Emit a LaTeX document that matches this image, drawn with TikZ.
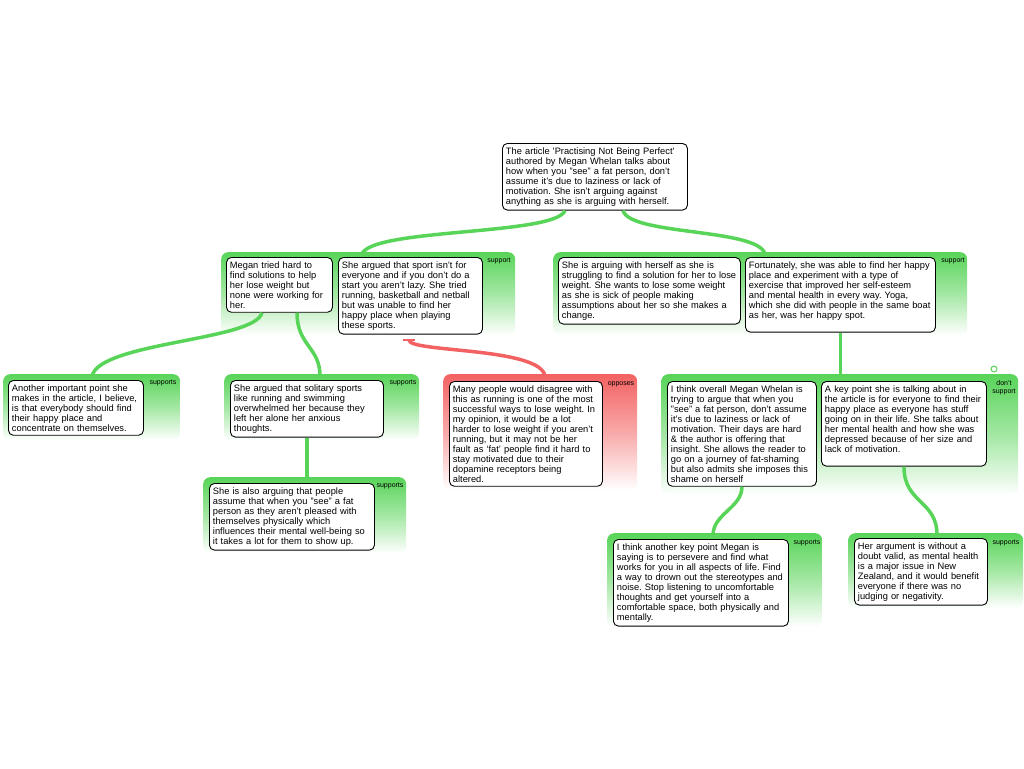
\documentclass[tikz,border=0pt]{standalone}
\usepackage{fontspec}
\setmainfont{Liberation Sans}
\usepackage{tikz}
\usetikzlibrary{calc,arrows.meta}
\definecolor{supgreen}{RGB}{88,212,88}
\definecolor{oppred}{RGB}{243,98,98}
\newcommand{\ArgFont}{\fontsize{9.3}{10}\selectfont}
\newcommand{\TagFont}{\fontsize{7}{8}\selectfont}
\frenchspacing
\tikzset{
  argbox/.style={draw, fill=white, rounded corners=5pt, line width=0.9pt,
    align=left, inner xsep=3.5pt, inner ysep=4pt, anchor=north west, font=\ArgFont},
  supgrp/.style={rounded corners=7pt, top color=supgreen, bottom color=white,
    middle color=supgreen!55, anchor=north west, inner sep=0pt},
  oppgrp/.style={rounded corners=7pt, top color=oppred, bottom color=white,
    middle color=oppred!55, anchor=north west, inner sep=0pt},
  grptag/.style={font=\TagFont, inner sep=0pt, align=center},
  supline/.style={draw=supgreen, line width=3.5pt},
  oppline/.style={draw=oppred, line width=3.5pt}
}

\begin{document}
\begin{tikzpicture}[x=1pt,y=-1pt]
			\useasboundingbox (0,0) rectangle (1024,768);
			% 
			\node[supgrp, minimum width=294, minimum height=83] (g1) at (221,252) {};
			\node[supgrp, minimum width=414, minimum height=83] (g2) at (553,252) {};
			\node[supgrp, minimum width=177, minimum height=66] (g3) at (3,374) {};
			\node[supgrp, minimum width=195, minimum height=66] (g4) at (224,374) {};
			\node[oppgrp, minimum width=194, minimum height=116] (g5) at (443,374) {};
			\node[supgrp, minimum width=203, minimum height=76] (g6) at (203,477) {};
			\node[supgrp, minimum width=357, minimum height=121] (g7) at (661,374) {};
			\node[supgrp, minimum width=215, minimum height=94] (g8) at (607,533) {};
			\node[supgrp, minimum width=175, minimum height=75] (g9) at (848,533) {};
			% 
			\node[grptag] (t1) at (499,261) {support};
			\node[grptag] (t2) at (953,261) {support};
			\node[grptag] (t3) at (163,383) {supports};
			\node[grptag] (t4) at (403,383) {supports};
			\node[grptag] (t5) at (621,384) {opposes};
			\node[grptag] (t6) at (390,486) {supports};
			\node[grptag] (t7) at (1004,388) {don't\\support};
			\node[grptag] (t8) at (807,543) {supports};
			\node[grptag] (t9) at (1006,543) {supports};
			\node[circle, draw=supgreen, line width=1pt, minimum size=6pt, inner sep=0pt] (o7) at (994,369) {};
			% 
			\node[argbox, text width=178] (claim) at (502,143) {The article \textquotesingle Practising Not Being Perfect\textquotesingle\\authored by Megan Whelan talks about\\how when you "see" a fat person, don't\\assume it's due to laziness or lack of\\motivation. She isn't arguing against\\anything as she is arguing with herself.};
			\node[argbox, text width=99] (ra) at (226,257) {Megan tried hard to\\find solutions to help\\her lose weight but\\none were working for\\her.};
			\node[argbox, text width=137] (rb) at (338,257) {She argued that sport isn't for\\everyone and if you don't do a\\start you aren't lazy. She tried\\running, basketball and netball\\but was unable to find her\\happy place when playing\\these sports.};
			\node[argbox, text width=175] (rc) at (558,257) {She is arguing with herself as she is\\struggling to find a solution for her to lose\\weight. She wants to lose some weight\\as she is sick of people making\\assumptions about her so she makes a\\change.};
			\node[argbox, text width=183] (rd) at (745,257) {Fortunately, she was able to find her happy\\place and experiment with a type of\\exercise that improved her self-esteem\\and mental health in every way. Yoga,\\which she did with people in the same boat\\as her, was her happy spot.\\~};
			\node[argbox, text width=128] (sa) at (8,380) {Another important point she\\makes in the article, I believe,\\is that everybody should find\\their happy place and\\concentrate on themselves.};
			\node[argbox, text width=146] (sb) at (230,380) {She argued that solitary sports\\like running and swimming\\overwhelmed her because they\\left her alone her anxious\\thoughts.};
			\node[argbox, text width=146] (ob) at (449,381) {Many people would disagree with\\this as running is one of the most\\successful ways to lose weight. In\\my opinion, it would be a lot\\harder to lose weight if you aren't\\running, but it may not be her\\fault as `fat' people find it hard to\\stay motivated due to their\\dopamine receptors being\\altered.};
			\node[argbox, text width=158] (sc) at (209,483) {She is also arguing that people\\assume that when you "see" a fat\\person as they aren't pleased with\\themselves physically which\\influences their mental well-being so\\it takes a lot for them to show up.};
			\node[argbox, text width=142] (ua) at (667,381) {I think overall Megan Whelan is\\trying to argue that when you\\"see" a fat person, don't assume\\it's due to laziness or lack of\\motivation. Their days are hard\\\& the author is offering that\\insight. She allows the reader to\\go on a journey of fat-shaming\\but also admits she imposes this\\shame on herself};
			\node[argbox, text width=158] (ub) at (821,381) {A key point she is talking about in\\the article is for everyone to find their\\happy place as everyone has stuff\\going on in their life. She talks about\\her mental health and how she was\\depressed because of her size and\\lack of motivation.\\~};
			\node[argbox, text width=168] (sd) at (613,539) {I think another key point Megan is\\saying is to persevere and find what\\works for you in all aspects of life. Find\\a way to drown out the stereotypes and\\noise. Stop listening to uncomfortable\\thoughts and get yourself into a\\comfortable space, both physically and\\mentally.};
			\node[argbox, text width=126] (se) at (854,538) {Her argument is without a\\doubt valid, as mental health\\is a major issue in New\\Zealand, and it would benefit\\everyone if there was no\\judging or negativity.};
			% 
			\coordinate (c1s) at ($(claim.south west)+(63,0)$);
			\coordinate (c2s) at ($(claim.south west)+(121,0)$);
			\coordinate (g1n) at ($(g1.north west)+(141,2)$);
			\coordinate (g2n) at ($(g2.north west)+(212,2)$);
			\coordinate (ra1) at ($(ra.south west)+(36,0)$);
			\coordinate (ra2) at ($(ra.south west)+(71,0)$);
			\coordinate (g3n) at ($(g3.north west)+(89,2)$);
			\coordinate (g4n) at ($(g4.north west)+(96,2)$);
			\coordinate (rbs) at ($(rb.south west)+(71,4)$);
			\coordinate (g5n) at ($(g5.north west)+(102,2)$);
			\coordinate (g8n) at ($(g8.north west)+(106,2)$);
			\coordinate (g9n) at ($(g9.north west)+(89,2)$);
			% 
			\draw[supline] (c1s) .. controls ($(c1s)+(-10,25)$) and ($(g1n)+(10,-26)$) .. (g1n);
			\draw[supline] (c2s) .. controls ($(c2s)+(7,25)$) and ($(g2n)+(-7,-26)$) .. (g2n);
			\draw[supline] (ra1) .. controls ($(ra1)+(-7,28)$) and ($(g3n)+(8,-34)$) .. (g3n);
			\draw[supline] (ra2) .. controls ($(ra2)+(0,33)$) and ($(g4n)+(0,-29)$) .. (g4n);
			\draw[oppline, {Bar[width=12pt,line width=2pt]}-] (rbs) .. controls ($(rbs)+(0,14)$) and ($(g5n)+(-5,-29)$) .. (g5n);
			\draw[supline] (sb.south) -- ($(sb.south |- g6.north)+(0,2)$);
			\draw[supline] (rd.south) -- ($(rd.south |- g7.north)+(0,2)$);
			\draw[supline] (ua.south) .. controls ($(ua.south)+(0,21)$) and ($(g8n)+(0,-21)$) .. (g8n);
			\draw[supline] (ub.south) .. controls ($(ub.south)+(0,37)$) and ($(g9n)+(0,-35)$) .. (g9n);
		\end{tikzpicture}
\end{document}
